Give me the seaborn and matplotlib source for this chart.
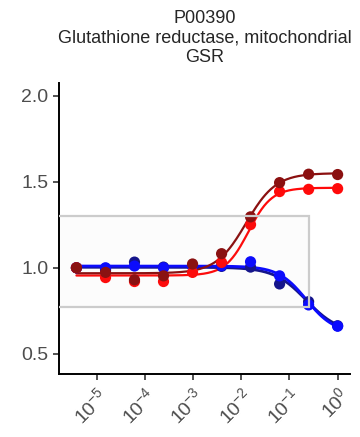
import numpy as np
import pandas as pd
import matplotlib
matplotlib.use("Agg")
import matplotlib.pyplot as plt
import matplotlib.ticker as mticker
from matplotlib.patches import Rectangle
import seaborn as sns

# dilution series (4-fold)
conc = [3.81e-6, 1.53e-5, 6.10e-5, 2.44e-4, 9.77e-4, 3.91e-3, 1.56e-2, 6.25e-2, 0.25, 1.0]

series_names = ["navy", "blue", "red", "darkred"]
series_colors = ["#13138c", "#0a0aff", "#ff0a0a", "#8b1010"]

navy_vals = [1.000, 0.988, 1.033, 1.004, 1.010, 1.008, 1.004, 0.906, 0.803, 0.663]
blue_vals = [1.000, 1.000, 1.010, 1.000, 1.010, 1.012, 1.035, 0.953, 0.784, 0.660]
red_vals = [1.000, 0.943, 0.920, 0.920, 0.973, 1.031, 1.251, 1.443, 1.456, 1.460]
darkred_vals = [1.000, 0.973, 0.930, 0.953, 1.022, 1.082, 1.296, 1.495, 1.544, 1.542]

# fitted log-logistic curves: bottom, top, log10 EC50, hill slope (sign = direction)
fit_params = {
    "navy": (0.62, 1.003, -0.65, -1.3),
    "blue": (0.62, 1.010, -0.65, -1.5),
    "red": (0.955, 1.465, -1.85, 1.8),
    "darkred": (0.968, 1.55, -1.90, 1.4),
}

xticks = [1e-5, 1e-4, 1e-3, 1e-2, 1e-1, 1.0]
yticks = [0.5, 1.0, 1.5, 2.0]

# box marking the "no change" zone
box_x_max = 0.25
box_y = [1 / 1.3, 1.3]

title = "P00390\nGlutathione reductase, mitochondrial\nGSR"

values = {"navy": navy_vals, "blue": blue_vals, "red": red_vals, "darkred": darkred_vals}
points = pd.DataFrame(
    [(c, v, n) for n in series_names for c, v in zip(conc, values[n])],
    columns=["conc", "ratio", "series"],
)

grid = np.logspace(np.log10(conc[0]), np.log10(conc[-1]), 200)
rows = []
for n in series_names:
    b, t, ec, h = fit_params[n]
    y = b + (t - b) / (1 + 10 ** (h * (ec - np.log10(grid))))
    rows += [(x, yy, n) for x, yy in zip(grid, y)]
curves = pd.DataFrame(rows, columns=["conc", "ratio", "series"])

sns.set_style("ticks")
plt.rcParams["font.family"] = ["Liberation Sans", "DejaVu Sans"]

pal = dict(zip(series_names, series_colors))
fig = plt.figure(figsize=(3.6, 4.37), dpi=100)
ax = fig.add_axes([0.164, 0.144, 0.808, 0.666])

sns.lineplot(data=curves[curves.series.isin(["navy", "blue"])], x="conc", y="ratio",
             hue="series", palette=pal, linewidth=2.0, legend=False, ax=ax, zorder=2)
sns.lineplot(data=curves[curves.series.isin(["red", "darkred"])], x="conc", y="ratio",
             hue="series", palette=pal, linewidth=1.6, legend=False, ax=ax, zorder=2)
sns.scatterplot(data=points, x="conc", y="ratio", hue="series", palette=pal,
                s=65, linewidth=0, legend=False, ax=ax, zorder=3)

ax.add_patch(Rectangle((1e-9, box_y[0]), box_x_max - 1e-9, box_y[1] - box_y[0],
                       facecolor=(0.5, 0.5, 0.5, 0.025), edgecolor="#cccccc",
                       linewidth=1.6, zorder=4))

ax.set_xscale("log")
ax.set_xlim(10 ** -5.78, 10 ** 0.255)
ax.set_ylim(0.382, 2.074)
ax.set_xticks(xticks)
ax.set_yticks(yticks)
ax.xaxis.set_minor_locator(mticker.NullLocator())
ax.set_xlabel("")
ax.set_ylabel("")

for s in ["top", "right"]:
    ax.spines[s].set_visible(False)
for s in ["left", "bottom"]:
    ax.spines[s].set_linewidth(1.4)
    ax.spines[s].set_color("black")
ax.tick_params(axis="both", length=4, width=1.2, color="#333333",
               labelsize=14, labelcolor="#4d4d4d")
plt.setp(ax.get_xticklabels(), rotation=45, ha="right", va="top", rotation_mode="anchor")

ax.set_title(title, fontsize=13, linespacing=1.2, pad=15)

fig.savefig("out.png", dpi=100)
